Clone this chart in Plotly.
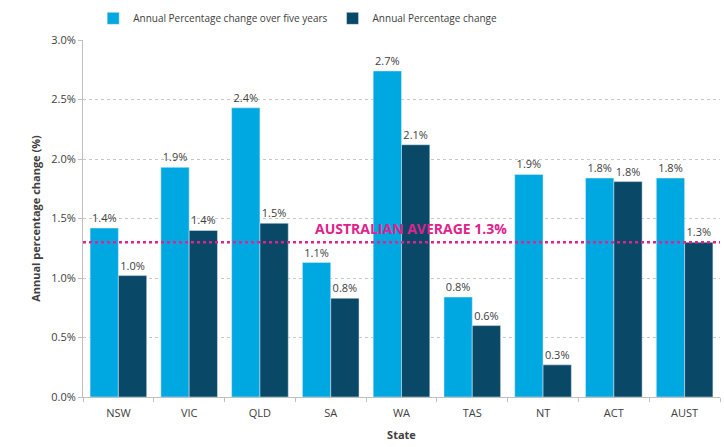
import plotly.graph_objects as go

states = ["NSW", "VIC", "QLD", "SA", "WA", "TAS", "NT", "ACT", "AUST"]
five_year = [1.42, 1.93, 2.43, 1.13, 2.74, 0.84, 1.87, 1.84, 1.84]
annual = [1.02, 1.40, 1.46, 0.83, 2.12, 0.60, 0.27, 1.81, 1.30]
average = 1.3
y_ticks = [0.0, 0.5, 1.0, 1.5, 2.0, 2.5, 3.0]
y_tick_labels = [f"{v:.1f}%" for v in y_ticks]

FONT = "Open Sans"
TXT = "#404040"

fig = go.Figure()
fig.add_trace(go.Bar(
    x=states, y=five_year, name="Annual Percentage change over five years",
    marker_color="#00A8E2",
    text=[f"{v:.1f}%" for v in five_year], textposition="outside",
    textfont=dict(size=11, color=TXT, family=FONT), cliponaxis=False,
))
fig.add_trace(go.Bar(
    x=states, y=annual, name="Annual Percentage change",
    marker_color="#0A4868",
    text=[f"{v:.1f}%" for v in annual], textposition="outside",
    textfont=dict(size=11, color=TXT, family=FONT), cliponaxis=False,
))

fig.add_shape(type="line", xref="paper", x0=0, x1=1, yref="y", y0=average, y1=average,
              line=dict(color="#E0228C", width=2.5, dash="dot"))
fig.add_annotation(xref="paper", x=0.515, yref="y", y=average, yshift=14,
                   text=f"<b>AUSTRALIAN AVERAGE {average}%</b>", showarrow=False,
                   font=dict(size=14, color="#E0228C", family=FONT))

fig.update_layout(
    width=724, height=447,
    margin=dict(l=83, r=4, t=35, b=50),
    paper_bgcolor="white", plot_bgcolor="white",
    barmode="group", bargap=0.2, bargroupgap=0,
    font=dict(family=FONT, size=11, color=TXT),
    legend=dict(orientation="h", x=0.016, xanchor="left", y=1.02, yanchor="bottom",
                font=dict(size=10, color=TXT), traceorder="normal"),
    xaxis=dict(title=dict(text="<b>State</b>", font=dict(size=11, color=TXT), standoff=12),
               showline=True, linecolor="#BFBFBF", linewidth=1,
               ticks="outside", tickson="boundaries", ticklen=4, tickcolor="#BFBFBF",
               ticklabelstandoff=6,
               tickfont=dict(size=11, color=TXT)),
    yaxis=dict(title=dict(text="<b>Annual percentage change (%)</b>", font=dict(size=11, color=TXT), standoff=8),
               range=[0, 3.0], tickvals=y_ticks, ticktext=y_tick_labels,
               showgrid=True, gridcolor="#C8C8C8", griddash="dot", gridwidth=1,
               showline=True, linecolor="#BFBFBF", linewidth=1,
               ticks="outside", ticklen=4, tickcolor="#BFBFBF",
               tickfont=dict(size=11, color=TXT), zeroline=False),
)

fig.write_html("out.html", config={"displayModeBar": False},
               post_script="document.body.style.margin='0';")
